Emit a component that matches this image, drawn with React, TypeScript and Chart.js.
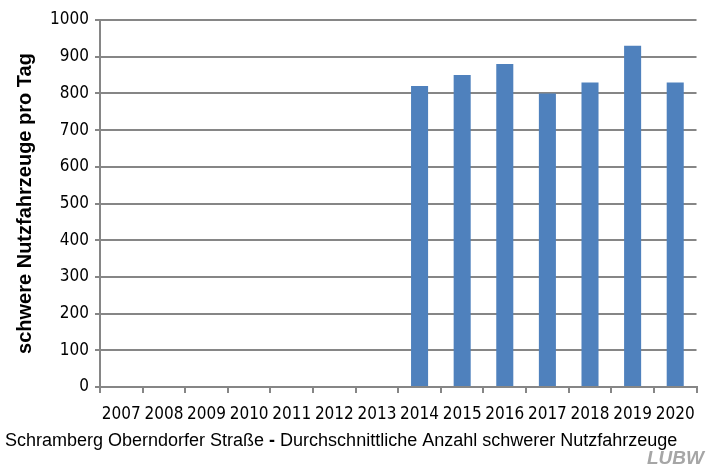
import React, { useEffect, useRef } from "react";
import { Chart, registerables } from "chart.js";

Chart.register(...registerables);

const years = ["2007", "2008", "2009", "2010", "2011", "2012", "2013", "2014", "2015", "2016", "2017", "2018", "2019", "2020"];
const trucks: (number | null)[] = [null, null, null, null, null, null, null, 820, 850, 880, 800, 830, 930, 830];
const yTicks = [0, 100, 200, 300, 400, 500, 600, 700, 800, 900, 1000];
const yTitle = "schwere Nutzfahrzeuge pro Tag";
const titlePart1 = "Schramberg Oberndorfer Straße ";
const titleDash = "-";
const titlePart2 = " Durchschnittliche Anzahl schwerer Nutzfahrzeuge";
const logoText = "LUBW";

const GRID = "#868686";
const TICK_FONT = '"DejaVu Sans Condensed", "DejaVu Sans", sans-serif';
const TITLE_FONT = '"Liberation Sans", Arial, sans-serif';

const textPlugin = {
  id: "extraText",
  afterDraw(chart: any) {
    const ctx = chart.ctx;
    ctx.save();
    ctx.fillStyle = "#000";
    ctx.textAlign = "left";
    ctx.textBaseline = "middle";
    let x = 5;
    const y = 441;
    ctx.font = `18px ${TITLE_FONT}`;
    ctx.fillText(titlePart1, x, y);
    x += ctx.measureText(titlePart1).width;
    ctx.font = `bold 18px ${TITLE_FONT}`;
    ctx.fillText(titleDash, x, y);
    x += ctx.measureText(titleDash).width;
    ctx.font = `18px ${TITLE_FONT}`;
    ctx.fillText(titlePart2, x, y);
    ctx.fillStyle = "#a6a6a6";
    ctx.font = `italic bold 19px ${TITLE_FONT}`;
    ctx.textAlign = "right";
    ctx.fillText(logoText, 704, 459);
    ctx.restore();
  },
};

export default function App() {
  const ref = useRef<HTMLCanvasElement | null>(null);
  useEffect(() => {
    if (!ref.current) return;
    const chart = new Chart(ref.current, {
      type: "bar",
      data: {
        labels: years,
        datasets: [
          {
            data: trucks,
            backgroundColor: "#4F81BD",
            borderWidth: 0,
            categoryPercentage: 1,
            barPercentage: 0.4,
          },
        ],
      },
      options: {
        animation: false,
        responsive: false,
        devicePixelRatio: 1,
        layout: { padding: { left: 0, top: 20, right: 9, bottom: 0 } },
        plugins: { legend: { display: false }, tooltip: { enabled: false } },
        scales: {
          x: {
            grid: { offset: true, drawOnChartArea: false, drawTicks: true, tickLength: 6, color: GRID, lineWidth: 2 },
            border: { color: GRID, width: 2 },
            ticks: { color: "#000", font: { family: TICK_FONT, size: 17 }, autoSkip: false, maxRotation: 0, padding: 11 },
            afterFit(scale: any) {
              scale.height = 84;
            },
          },
          y: {
            min: 0,
            max: 1000,
            afterBuildTicks(scale: any) {
              scale.ticks = yTicks.map((v) => ({ value: v }));
            },
            grid: { color: GRID, lineWidth: 2, drawTicks: true, tickLength: 5 },
            border: { color: GRID, width: 2 },
            ticks: {
              color: "#000",
              font: { family: TICK_FONT, size: 17 },
              padding: 6,
              callback: (v: any) => String(v),
            },
            title: {
              display: true,
              text: yTitle,
              color: "#000",
              font: { family: TITLE_FONT, size: 20, weight: "bold" },
              padding: { top: 13, bottom: 0 },
            },
            afterFit(scale: any) {
              scale.width = 100;
            },
          },
        },
      },
      plugins: [textPlugin],
    });
    return () => chart.destroy();
  }, []);
  return (
    <div style={{ position: "fixed", left: 0, top: 0, width: 706, height: 471, background: "#fff" }}>
      <canvas ref={ref} width={706} height={471} style={{ width: 706, height: 471 }} />
    </div>
  );
}
